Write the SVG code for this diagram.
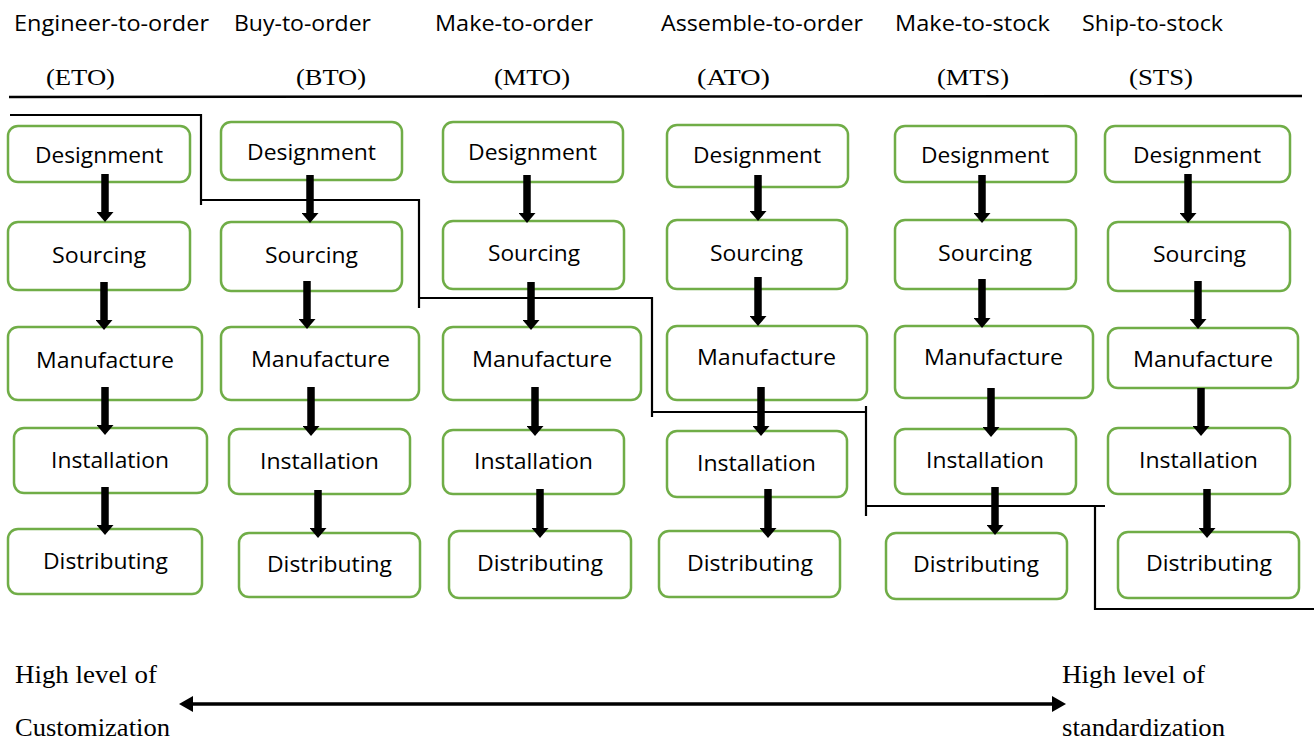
<svg xmlns="http://www.w3.org/2000/svg" width="1314" height="742" viewBox="0 0 1314 742">
  <defs>
    <style>
      .box { fill: #ffffff; stroke: #70AD47; stroke-width: 2.5; }
      .lbl { font-family: "Open Sans", "Liberation Sans", sans-serif; font-size: 22px; fill: #000000; }
      .hdr { font-family: "Open Sans", "Liberation Sans", sans-serif; font-size: 22px; fill: #000000; }
      .abbr { font-family: "Liberation Serif", "Times New Roman", serif; font-size: 23px; fill: #000000; }
      .note { font-family: "Liberation Serif", "Times New Roman", serif; font-size: 25px; fill: #000000; }
      .flow { stroke: #000000; stroke-width: 7.5; fill: none; marker-end: url(#head); }
      .step { stroke: #000000; stroke-width: 2.2; fill: none; }
      .scale { stroke: #000000; stroke-width: 3.5; fill: none; marker-start: url(#tip); marker-end: url(#tip); }
    </style>
    <marker id="head" markerUnits="userSpaceOnUse" markerWidth="10" markerHeight="17" viewBox="0 0 10 17" refX="0" refY="8.5" orient="auto">
      <path d="M0,0 L10,8.5 L0,17 Z" fill="#000000"/>
    </marker>
    <marker id="tip" markerUnits="userSpaceOnUse" markerWidth="14" markerHeight="16" viewBox="0 0 14 16" refX="1" refY="8" orient="auto-start-reverse">
      <path d="M0,0 L14,8 L0,16 Z" fill="#000000"/>
    </marker>
  </defs>

  <rect width="1314" height="742" fill="#ffffff"/>

  <!-- strategy headings -->
  <g id="headings">
    <text class="hdr" x="14" y="31" textLength="195" lengthAdjust="spacingAndGlyphs">Engineer-to-order</text>
    <text class="hdr" x="234" y="31" textLength="137" lengthAdjust="spacingAndGlyphs">Buy-to-order</text>
    <text class="hdr" x="435" y="31" textLength="158" lengthAdjust="spacingAndGlyphs">Make-to-order</text>
    <text class="hdr" x="661" y="31" textLength="202" lengthAdjust="spacingAndGlyphs">Assemble-to-order</text>
    <text class="hdr" x="895" y="31" textLength="155" lengthAdjust="spacingAndGlyphs">Make-to-stock</text>
    <text class="hdr" x="1082" y="31" textLength="141" lengthAdjust="spacingAndGlyphs">Ship-to-stock</text>
    <text class="abbr" x="46" y="85" textLength="69" lengthAdjust="spacingAndGlyphs">(ETO)</text>
    <text class="abbr" x="296" y="85" textLength="70" lengthAdjust="spacingAndGlyphs">(BTO)</text>
    <text class="abbr" x="494" y="85" textLength="76" lengthAdjust="spacingAndGlyphs">(MTO)</text>
    <text class="abbr" x="697" y="85" textLength="73" lengthAdjust="spacingAndGlyphs">(ATO)</text>
    <text class="abbr" x="937" y="85" textLength="72" lengthAdjust="spacingAndGlyphs">(MTS)</text>
    <text class="abbr" x="1129" y="85" textLength="64" lengthAdjust="spacingAndGlyphs">(STS)</text>
    <line x1="9" y1="97" x2="1302" y2="96" stroke="#000000" stroke-width="2.5"/>
  </g>

  <!-- ETO column -->
  <g id="eto">
    <g id="eto-design"><rect class="box" x="8" y="126" width="182" height="56" rx="10"/><text class="lbl" x="35" y="163" textLength="128" lengthAdjust="spacingAndGlyphs">Designment</text></g>
    <g id="eto-source"><rect class="box" x="8" y="222" width="182" height="68" rx="10"/><text class="lbl" x="52" y="263" textLength="94" lengthAdjust="spacingAndGlyphs">Sourcing</text></g>
    <g id="eto-make"><rect class="box" x="8" y="327" width="194" height="73" rx="10"/><text class="lbl" x="36" y="368" textLength="138" lengthAdjust="spacingAndGlyphs">Manufacture</text></g>
    <g id="eto-install"><rect class="box" x="14" y="428" width="193" height="65" rx="10"/><text class="lbl" x="51" y="468" textLength="118" lengthAdjust="spacingAndGlyphs">Installation</text></g>
    <g id="eto-dist"><rect class="box" x="8" y="529" width="194" height="65" rx="10"/><text class="lbl" x="43" y="569" textLength="125" lengthAdjust="spacingAndGlyphs">Distributing</text></g>
  </g>

  <!-- BTO column -->
  <g id="bto">
    <g id="bto-design"><rect class="box" x="221" y="122" width="181" height="58" rx="10"/><text class="lbl" x="247" y="160" textLength="129" lengthAdjust="spacingAndGlyphs">Designment</text></g>
    <g id="bto-source"><rect class="box" x="221" y="222" width="181" height="69" rx="10"/><text class="lbl" x="265" y="263" textLength="93" lengthAdjust="spacingAndGlyphs">Sourcing</text></g>
    <g id="bto-make"><rect class="box" x="221" y="327" width="198" height="73" rx="10"/><text class="lbl" x="251" y="367" textLength="139" lengthAdjust="spacingAndGlyphs">Manufacture</text></g>
    <g id="bto-install"><rect class="box" x="229" y="429" width="181" height="65" rx="10"/><text class="lbl" x="260" y="469" textLength="119" lengthAdjust="spacingAndGlyphs">Installation</text></g>
    <g id="bto-dist"><rect class="box" x="239" y="533" width="181" height="64" rx="10"/><text class="lbl" x="267" y="572" textLength="125" lengthAdjust="spacingAndGlyphs">Distributing</text></g>
  </g>

  <!-- MTO column -->
  <g id="mto">
    <g id="mto-design"><rect class="box" x="443" y="122" width="180" height="60" rx="10"/><text class="lbl" x="468" y="160" textLength="129" lengthAdjust="spacingAndGlyphs">Designment</text></g>
    <g id="mto-source"><rect class="box" x="443" y="221" width="181" height="68" rx="10"/><text class="lbl" x="488" y="261" textLength="92" lengthAdjust="spacingAndGlyphs">Sourcing</text></g>
    <g id="mto-make"><rect class="box" x="443" y="327" width="198" height="73" rx="10"/><text class="lbl" x="472" y="367" textLength="140" lengthAdjust="spacingAndGlyphs">Manufacture</text></g>
    <g id="mto-install"><rect class="box" x="443" y="430" width="181" height="64" rx="10"/><text class="lbl" x="474" y="469" textLength="119" lengthAdjust="spacingAndGlyphs">Installation</text></g>
    <g id="mto-dist"><rect class="box" x="449" y="531" width="182" height="67" rx="10"/><text class="lbl" x="477" y="571" textLength="126" lengthAdjust="spacingAndGlyphs">Distributing</text></g>
  </g>

  <!-- ATO column -->
  <g id="ato">
    <g id="ato-design"><rect class="box" x="667" y="125" width="181" height="62" rx="10"/><text class="lbl" x="693" y="163" textLength="128" lengthAdjust="spacingAndGlyphs">Designment</text></g>
    <g id="ato-source"><rect class="box" x="667" y="220" width="180" height="69" rx="10"/><text class="lbl" x="710" y="261" textLength="93" lengthAdjust="spacingAndGlyphs">Sourcing</text></g>
    <g id="ato-make"><rect class="box" x="667" y="326" width="200" height="74" rx="10"/><text class="lbl" x="697" y="365" textLength="139" lengthAdjust="spacingAndGlyphs">Manufacture</text></g>
    <g id="ato-install"><rect class="box" x="667" y="431" width="180" height="66" rx="10"/><text class="lbl" x="697" y="471" textLength="119" lengthAdjust="spacingAndGlyphs">Installation</text></g>
    <g id="ato-dist"><rect class="box" x="659" y="531" width="181" height="66" rx="10"/><text class="lbl" x="687" y="571" textLength="126" lengthAdjust="spacingAndGlyphs">Distributing</text></g>
  </g>

  <!-- MTS column -->
  <g id="mts">
    <g id="mts-design"><rect class="box" x="895" y="126" width="181" height="56" rx="10"/><text class="lbl" x="921" y="163" textLength="128" lengthAdjust="spacingAndGlyphs">Designment</text></g>
    <g id="mts-source"><rect class="box" x="895" y="220" width="181" height="69" rx="10"/><text class="lbl" x="938" y="261" textLength="94" lengthAdjust="spacingAndGlyphs">Sourcing</text></g>
    <g id="mts-make"><rect class="box" x="895" y="326" width="198" height="72" rx="10"/><text class="lbl" x="924" y="365" textLength="139" lengthAdjust="spacingAndGlyphs">Manufacture</text></g>
    <g id="mts-install"><rect class="box" x="895" y="429" width="181" height="65" rx="10"/><text class="lbl" x="926" y="468" textLength="118" lengthAdjust="spacingAndGlyphs">Installation</text></g>
    <g id="mts-dist"><rect class="box" x="886" y="533" width="181" height="66" rx="10"/><text class="lbl" x="913" y="572" textLength="126" lengthAdjust="spacingAndGlyphs">Distributing</text></g>
  </g>

  <!-- STS column -->
  <g id="sts">
    <g id="sts-design"><rect class="box" x="1105" y="126" width="185" height="56" rx="10"/><text class="lbl" x="1133" y="163" textLength="128" lengthAdjust="spacingAndGlyphs">Designment</text></g>
    <g id="sts-source"><rect class="box" x="1108" y="222" width="182" height="69" rx="10"/><text class="lbl" x="1153" y="262" textLength="93" lengthAdjust="spacingAndGlyphs">Sourcing</text></g>
    <g id="sts-make"><rect class="box" x="1108" y="328" width="190" height="60" rx="10"/><text class="lbl" x="1133" y="367" textLength="140" lengthAdjust="spacingAndGlyphs">Manufacture</text></g>
    <g id="sts-install"><rect class="box" x="1108" y="428" width="182" height="66" rx="10"/><text class="lbl" x="1139" y="468" textLength="119" lengthAdjust="spacingAndGlyphs">Installation</text></g>
    <g id="sts-dist"><rect class="box" x="1118" y="532" width="181" height="66" rx="10"/><text class="lbl" x="1146" y="571" textLength="126" lengthAdjust="spacingAndGlyphs">Distributing</text></g>
  </g>

  <!-- decoupling boundary between order-driven and stock-driven steps -->
  <g id="boundary">
    <path class="step" d="M10,115 H201 V205"/>
    <path class="step" d="M201,200 H419 V308"/>
    <path class="step" d="M419,298 H652 V417"/>
    <path class="step" d="M652,412 H866"/>
    <path class="step" d="M866,406 V516"/>
    <path class="step" d="M866,506 H1105"/>
    <path class="step" d="M1095,506 V609 H1314"/>
  </g>

  <!-- process flow arrows -->
  <g id="connectors">
    <line class="flow" x1="105" y1="174" x2="105" y2="212"/>
    <line class="flow" x1="104" y1="282" x2="104" y2="320"/>
    <line class="flow" x1="105" y1="387" x2="105" y2="425"/>
    <line class="flow" x1="105" y1="487" x2="105" y2="525"/>

    <line class="flow" x1="310" y1="175" x2="310" y2="213"/>
    <line class="flow" x1="307" y1="281" x2="307" y2="319"/>
    <line class="flow" x1="311" y1="387" x2="311" y2="426"/>
    <line class="flow" x1="318" y1="490" x2="318" y2="528"/>

    <line class="flow" x1="527" y1="175" x2="527" y2="213"/>
    <line class="flow" x1="531" y1="282" x2="531" y2="320"/>
    <line class="flow" x1="535" y1="387" x2="535" y2="426"/>
    <line class="flow" x1="540" y1="489" x2="540" y2="528"/>

    <line class="flow" x1="758" y1="175" x2="758" y2="211"/>
    <line class="flow" x1="758" y1="277" x2="758" y2="316"/>
    <line class="flow" x1="761" y1="387" x2="761" y2="426"/>
    <line class="flow" x1="768" y1="489" x2="768" y2="528"/>

    <line class="flow" x1="982" y1="175" x2="982" y2="213"/>
    <line class="flow" x1="982" y1="279" x2="982" y2="318"/>
    <line class="flow" x1="991" y1="388" x2="991" y2="427"/>
    <line class="flow" x1="995" y1="487" x2="995" y2="525"/>

    <line class="flow" x1="1188" y1="174" x2="1188" y2="213"/>
    <line class="flow" x1="1198" y1="281" x2="1198" y2="319"/>
    <line class="flow" x1="1201" y1="388" x2="1201" y2="426"/>
    <line class="flow" x1="1207" y1="489" x2="1207" y2="528"/>
  </g>

  <!-- customization / standardization scale -->
  <g id="scale">
    <text class="note" x="15" y="683" textLength="142" lengthAdjust="spacingAndGlyphs">High level of</text>
    <text class="note" x="15" y="736" textLength="155" lengthAdjust="spacingAndGlyphs">Customization</text>
    <text class="note" x="1062" y="683" textLength="143" lengthAdjust="spacingAndGlyphs">High level of</text>
    <text class="note" x="1062" y="736" textLength="163" lengthAdjust="spacingAndGlyphs">standardization</text>
    <line class="scale" x1="192" y1="704" x2="1053" y2="704"/>
  </g>
</svg>
